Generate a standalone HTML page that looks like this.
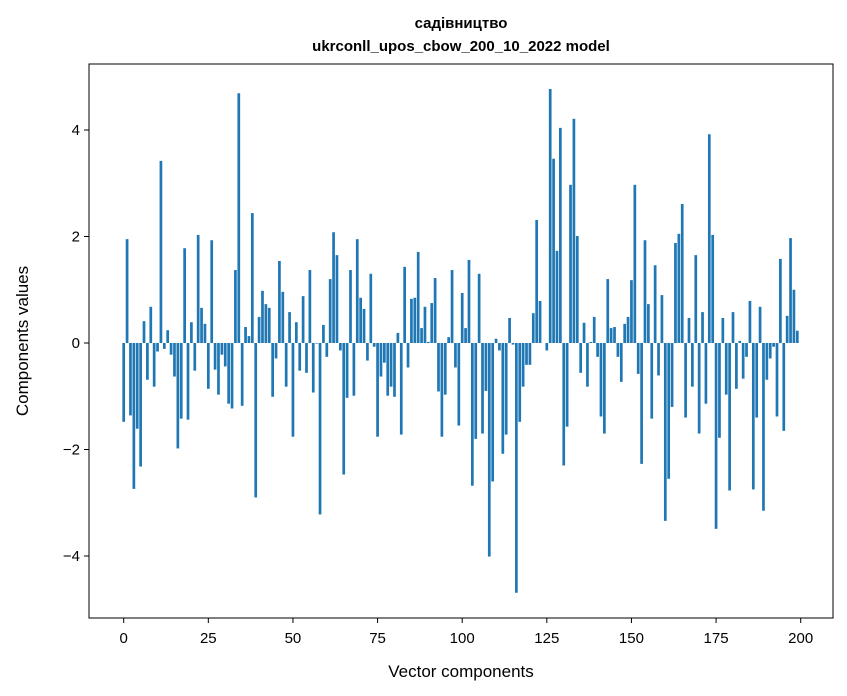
<!DOCTYPE html>
<html><head><meta charset="utf-8"><style>
body{margin:0;background:#fff;}
svg{display:block;font-family:"Liberation Sans","DejaVu Sans",sans-serif;}
</style></head><body>
<svg id="chart" width="847" height="696" viewBox="0 0 847 696">
<rect width="847" height="696" fill="#fff"/>
<text x="461" y="28" text-anchor="middle" font-size="15" font-weight="bold">садівництво</text>
<text x="461" y="51" text-anchor="middle" font-size="15" font-weight="bold">ukrconll_upos_cbow_200_10_2022 model</text>
<g id="bars"></g>
<g id="axes"></g>
<rect x="89" y="64" width="744" height="554" fill="none" stroke="#000" stroke-width="1"/>
<text x="461" y="677" text-anchor="middle" font-size="17">Vector components</text>
<text transform="translate(28,341) rotate(-90)" text-anchor="middle" font-size="17">Components values</text>
</svg>
<script>
const values = [-1.48,1.95,-1.36,-2.74,-1.61,-2.32,0.41,-0.69,0.68,-0.82,-0.16,3.42,-0.11,0.24,-0.22,-0.63,-1.98,-1.42,1.78,-1.44,
0.39,-0.52,2.03,0.66,0.36,-0.86,1.93,-0.5,-0.97,-0.22,-0.44,-1.14,-1.23,1.37,4.69,-1.18,0.3,0.13,2.44,-2.9,
0.49,0.98,0.73,0.66,-1.01,-0.29,1.54,0.96,-0.82,0.58,-1.76,0.39,-0.52,0.88,-0.56,1.37,-0.93,-0.01,-3.22,0.34,
-0.26,1.2,2.08,1.65,-0.14,-2.47,-1.03,1.37,-0.99,1.95,0.85,0.64,-0.33,1.3,-0.07,-1.76,-0.63,-0.37,-0.99,-0.82,
-1.01,0.19,-1.72,1.43,-0.46,0.83,0.85,1.71,0.28,0.68,0.02,0.75,1.22,-0.91,-1.76,-0.97,0.11,1.37,-0.46,-1.55,
0.94,0.28,1.56,-2.68,-1.8,1.3,-1.7,-0.9,-4.01,-2.6,0.08,-0.14,-2.08,-1.72,0.47,-0.03,-4.69,-1.48,-0.82,-0.41,
-0.41,0.56,2.31,0.79,0.0,-0.14,4.77,3.46,1.73,4.04,-2.3,-1.57,2.97,4.21,2.01,-0.56,0.38,-0.82,0.02,0.49,
-0.26,-1.38,-1.7,1.2,0.28,0.3,-0.26,-0.73,0.36,0.49,1.18,2.97,-0.58,-2.27,1.93,0.73,-1.42,1.46,-0.61,0.9,
-3.34,-2.55,-1.2,1.88,2.05,2.61,-1.4,0.47,-0.82,1.65,-1.7,0.58,-1.14,3.92,2.03,-3.49,-1.78,0.47,-0.97,-2.77,
0.58,-0.86,0.04,-0.67,-0.26,0.79,-2.75,-1.4,0.68,-3.15,-0.69,-0.29,-0.07,-1.38,1.58,-1.65,0.51,1.97,1.0,0.23];
const xTicks = [0,25,50,75,100,125,150,175,200];
const yTicks = [-4,-2,0,2,4];
const NS="http://www.w3.org/2000/svg";
const x = v => 123.7 + (v)*3.385;
const y = v => 343 - v*53.25;
const bars=document.getElementById('bars'), axes=document.getElementById('axes');
values.forEach((v,i)=>{
  const r=document.createElementNS(NS,'rect');
  
  
  r.setAttribute('x',x(i-0.4)); r.setAttribute('width',0.8*3.385);
  r.setAttribute('y',Math.min(y(v),y(0))); r.setAttribute('height',Math.abs(y(v)-y(0)));
  r.setAttribute('fill','#1f77b4'); bars.appendChild(r);
});
xTicks.forEach(t=>{
  const l=document.createElementNS(NS,'line');
  
  
  l.setAttribute('x1',x(t));l.setAttribute('x2',x(t));l.setAttribute('y1',618);l.setAttribute('y2',623);l.setAttribute('stroke','#000');
  axes.appendChild(l);
  const s=document.createElementNS(NS,'text');
  
  
  s.setAttribute('x',x(t));s.setAttribute('y',643);s.setAttribute('text-anchor','middle');s.setAttribute('font-size','15');
  s.textContent=t; axes.appendChild(s);
});
yTicks.forEach(t=>{
  const l=document.createElementNS(NS,'line');
  
  
  l.setAttribute('x1',84);l.setAttribute('x2',89);l.setAttribute('y1',y(t));l.setAttribute('y2',y(t));l.setAttribute('stroke','#000');
  axes.appendChild(l);
  const s=document.createElementNS(NS,'text');
  
  
  s.setAttribute('x',80);s.setAttribute('y',y(t)+5);s.setAttribute('text-anchor','end');s.setAttribute('font-size','15');
  s.textContent=(t<0?'\u2212'+(-t):String(t)); axes.appendChild(s);
});
</script>
</body></html>
